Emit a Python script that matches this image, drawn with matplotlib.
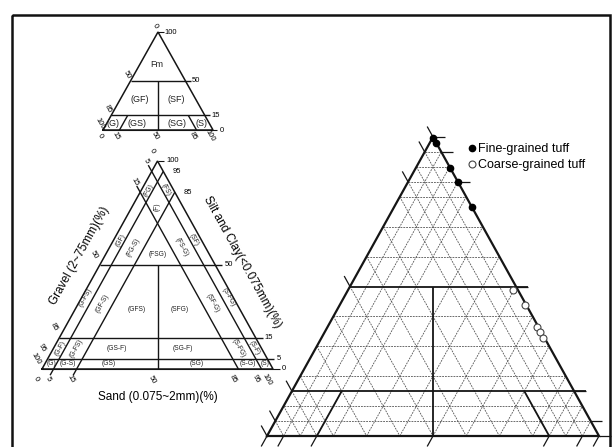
import numpy as np
import matplotlib.pyplot as plt
from matplotlib.patches import Rectangle

plt.rcParams['font.family'] = ['Liberation Sans', 'DejaVu Sans']

# tuff samples: fines (silt and clay, %) and gravel (%)
fine_fines = [99.7, 98.0, 89.5, 84.8, 76.6]
fine_gravel = [0.0, 0.0, 0.0, 0.0, 0.0]
coarse_fines = [48.8, 43.8, 36.5, 34.8, 32.8]
coarse_gravel = [1.5, 0.5, 0.5, 0.5, 0.5]

# tick values on the axes
t1_fines_ticks = [100, 50, 15, 0]
t1_gravel_ticks = [0, 50, 85, 100]
t1_sand_ticks = [0, 15, 50, 85, 100]
t2_fines_ticks = [100, 95, 85, 50, 15, 5, 0]
t2_ticks = [0, 5, 15, 50, 85, 95, 100]
t3_ticks = [0, 5, 15, 50, 85, 95, 100]
grid_levels = [5, 10, 15, 20, 30, 40, 50, 60, 70, 80, 85, 90, 95]

# region names: (text, horizontal %, fines %, rotation)
t1_regions = [("Fm", 49, 67, 0), ("(GF)", 33.5, 31, 0), ("(SF)", 66.5, 31, 0),
              ("(G)", 9, 7, 0), ("(GS)", 31, 7, 0), ("(SG)", 67, 7, 0), ("(S)", 90, 7, 0)]
t2_regions = [("(GF)", 34.2, 62, 61), ("(FG-S)", 39.6, 58.7, 61), ("(FSG)", 50, 55, 0),
              ("(FS-G)", 60.4, 58.7, -61), ("(SF)", 65.8, 62, -61),
              ("(FG)", 46.3, 86, 61), ("(FS)", 53.7, 86, -61), ("(F)", 50, 78, 90),
              ("(G-FS)", 19, 34.6, 61), ("(GF-S)", 26, 31.7, 61), ("(GFS)", 41, 28.4, 0),
              ("(SFG)", 59.7, 28.4, 0), ("(SF-G)", 74, 31.7, -61), ("(S-FG)", 81, 34.6, -61),
              ("(G-F)", 8, 10, 61), ("(G-FS)", 15, 10, 61), ("(GS-F)", 32.5, 10, 0),
              ("(SG-F)", 61, 10, 0), ("(S-FG)", 85, 10, -61), ("(S-F)", 92, 10, -61),
              ("(G)", 4, 2.5, 0), ("(G-S)", 11, 2.5, 0), ("(GS)", 29, 2.5, 0),
              ("(SG)", 67, 2.5, 0), ("(S-G)", 89, 2.5, 0), ("(S)", 96.5, 2.5, 0)]

# triangle frames in pixels: left corner x, base y, width, height
T1 = (103, 130, 110, 98)
T2 = (42, 369, 231, 208)
T3 = (267, 436, 332, 299)

fig = plt.figure(figsize=(6.13, 4.47), dpi=100)
ax = fig.add_axes([0, 0, 1, 1])
ax.set_xlim(0, 613)
ax.set_ylim(447, 0)
ax.axis('off')

ax.add_patch(Rectangle((11.5, 15), 598.5, 445, fill=False, lw=1.8, ec='#111111'))


def xy(T, sand, fines):
    x0, y0, w, h = T
    return x0 + w * (np.asarray(sand) + np.asarray(fines) / 2) / 100, y0 - h * np.asarray(fines) / 100


def line(T, p, q, **kw):
    (x1, y1), (x2, y2) = xy(T, *p), xy(T, *q)
    ax.plot([x1, x2], [y1, y2], solid_capstyle='butt', **kw)


def outline(T, lw):
    xs, ys = xy(T, [0, 100, 0, 0], [0, 0, 100, 0])
    ax.plot(xs, ys, color='#151515', lw=lw, solid_joinstyle='miter')


def regions(T, items, size):
    x0, y0, w, h = T
    for txt, u, f, rot in items:
        ax.text(x0 + w * u / 100, y0 - h * f / 100, txt, rotation=rot, fontsize=size,
                ha='center', va='center', color='#222222')


def class_lines(T, fines_levels, lw, ext):
    for f in fines_levels:
        line(T, (0, f), (100 - f + ext, f), color='#151515', lw=lw)
    line(T, (25, 50), (50, 0), color='#151515', lw=lw)


CLS = dict(color='#151515')
GRID = dict(color='#555555', lw=0.6, ls=(0, (2.2, 1.2)))

# ---- small classification triangle (top)
outline(T1, 1.1)
class_lines(T1, [50, 15], 1.0, 5)
line(T1, (15, 0), (15, 15), lw=1.0, **CLS)
line(T1, (85, 0), (70, 15), lw=1.0, **CLS)
line(T1, (0, 100), (5, 100), lw=0.8, **CLS)
line(T1, (0, 0), (104, 0), lw=0.8, **CLS)
regions(T1, t1_regions, 6.5)
for f in t1_fines_ticks:
    x, y = xy(T1, 100 - f + 6, f)
    ax.text(x, y, str(f), fontsize=5.5, ha='left', va='center')
for g in t1_gravel_ticks:
    x, y = xy(T1, -6, 100 - g + 6)
    ax.text(x, y, str(g), fontsize=5.5, rotation=-60, ha='center', va='center')
for s in t1_sand_ticks:
    x, y = xy(T1, s, -6)
    ax.text(x, y, str(s), fontsize=5.5, rotation=-60, ha='center', va='center')

# ---- middle classification triangle
outline(T2, 1.1)
class_lines(T2, [50, 15, 5], 1.0, 3)
for v in [5, 15]:
    line(T2, (v, -3), (v, 100 - v), lw=1.0, **CLS)
    line(T2, (-3, 100 - v + 3), (100 - v, 0), lw=1.0, **CLS)
for f in [0, 100]:
    line(T2, (0, f), (100 - f + 3, f), lw=0.8, **CLS)
regions(T2, t2_regions, 4.8)
for f in t2_fines_ticks:
    x, y = xy(T2, 100 - f + 4, f)
    ax.text(x, y, str(f), fontsize=5.5, ha='left', va='center')
for g in t2_ticks:
    x, y = xy(T2, -5, 100 - g + 5)
    ax.text(x, y, str(g), fontsize=5.5, rotation=-60, ha='center', va='center')
for s in t2_ticks:
    x, y = xy(T2, s, -5)
    ax.text(x, y, str(s), fontsize=5.5, rotation=-60, ha='center', va='center')
ax.text(80, 256, 'Gravel (2~75mm)(%)', rotation=61, fontsize=8.5, ha='center', va='center')
ax.text(242, 262, 'Silt and Clay(<0.075mm)(%)', rotation=-61, fontsize=8.5,
        ha='center', va='center')
ax.text(158, 397, 'Sand (0.075~2mm)(%)', fontsize=8.5, ha='center', va='center')

# ---- big plotting triangle with grid
for v in grid_levels:
    if v not in (15, 50):
        line(T3, (0, v), (100 - v, v), **GRID)
    line(T3, (v, 0), (v, 100 - v), **GRID)
    line(T3, (0, 100 - v), (100 - v, 0), **GRID)
class_lines(T3, [50, 15], 1.3, 3.5)
line(T3, (15, 0), (15, 15), lw=1.3, **CLS)
line(T3, (85, 0), (70, 15), lw=1.3, **CLS)
for v in t3_ticks:
    line(T3, (100 - v, v), (100 - v + 3.5, v), lw=0.9, **CLS)
    line(T3, (v, -3.5), (v, 0), lw=0.9, **CLS)
    line(T3, (-3.5, 100 - v + 3.5), (0, 100 - v), lw=0.9, **CLS)
outline(T3, 1.6)

fx, fy = xy(T3, 100 - np.array(fine_gravel) - np.array(fine_fines), fine_fines)
cx, cy = xy(T3, 100 - np.array(coarse_gravel) - np.array(coarse_fines), coarse_fines)
ax.plot(fx, fy, 'o', ms=4.5, mfc='black', mec='black', ls='none', label='Fine-grained tuff')
ax.plot(cx, cy, 'o', ms=5, mfc='white', mec='#444444', mew=0.8, ls='none',
        label='Coarse-grained tuff')
ax.legend(loc='upper left', bbox_to_anchor=(468 / 613, 1 - 143 / 447), frameon=False,
          fontsize=9, handlelength=0.6, handletextpad=0.2, borderpad=0, borderaxespad=0,
          labelspacing=0.35)

fig.savefig('out.png', dpi=100)
